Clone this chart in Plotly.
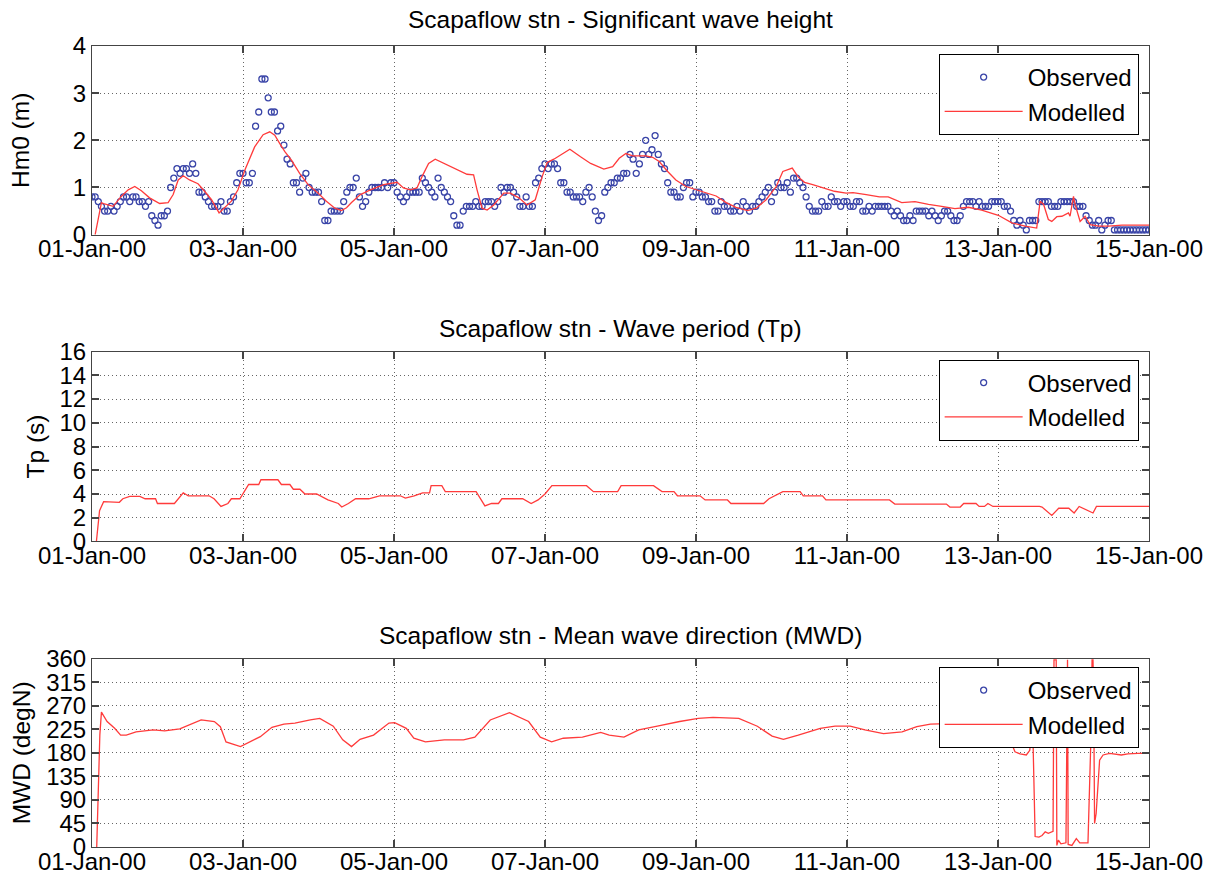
import pandas as pd
import plotly.graph_objects as go

# ---------------- data ----------------
START = pd.Timestamp("2000-01-01")

# Observed Hm0 (m), hourly from 01-Jan-00 00:00
obs_hm0_day = [
    [0.8,0.8,0.7,0.6,0.5,0.5,0.6,0.5,0.6,0.7,0.8,0.8,0.7,0.8,0.8,0.7,0.7,0.6,0.7,0.4,0.3,0.2,0.4,0.4],
    [0.5,1.0,1.2,1.4,1.3,1.4,1.4,1.3,1.5,1.3,0.9,0.9,0.8,0.7,0.6,0.6,0.6,0.7,0.5,0.5,0.7,0.8,1.1,1.3],
    [1.3,1.1,1.1,1.3,2.3,2.6,3.3,3.3,2.9,2.6,2.6,2.2,2.3,1.9,1.6,1.5,1.1,1.1,0.9,1.2,1.3,1.0,0.9,0.9],
    [0.9,0.7,0.3,0.3,0.5,0.5,0.5,0.5,0.7,0.9,1.0,1.0,1.2,0.8,0.6,0.7,0.9,1.0,1.0,1.0,1.0,1.1,1.0,1.1],
    [1.1,0.9,0.8,0.7,0.8,0.9,0.9,0.9,0.9,1.2,1.1,1.0,0.9,0.8,1.2,1.0,0.9,0.8,0.7,0.4,0.2,0.2,0.5,0.6],
    [0.6,0.6,0.7,0.6,0.6,0.7,0.7,0.7,0.6,0.7,1.0,0.9,1.0,1.0,0.9,0.8,0.6,0.6,0.8,0.6,0.6,1.1,1.2,1.4],
    [1.5,1.4,1.5,1.5,1.4,1.1,1.1,0.9,0.9,0.8,0.8,0.8,0.7,0.9,1.0,0.8,0.5,0.3,0.4,0.9,1.0,1.1,1.1,1.2],
    [1.2,1.3,1.3,1.7,1.6,1.3,1.5,1.7,2.0,1.7,1.8,2.1,1.7,1.5,1.4,1.1,0.9,0.9,0.8,0.8,1.0,1.1,1.1,0.8],
    [0.9,0.9,0.8,0.8,0.7,0.7,0.5,0.5,0.7,0.6,0.6,0.5,0.5,0.6,0.5,0.7,0.6,0.5,0.6,0.6,0.7,0.8,0.9,1.0],
    [0.7,0.9,1.1,1.0,1.0,1.1,0.9,1.2,1.2,1.1,1.0,0.8,0.6,0.5,0.5,0.5,0.7,0.6,0.6,0.8,0.7,0.7,0.6,0.7],
    [0.7,0.6,0.6,0.7,0.7,0.5,0.5,0.6,0.5,0.6,0.6,0.6,0.6,0.6,0.5,0.4,0.5,0.4,0.3,0.3,0.4,0.3,0.5,0.5],
    [0.5,0.5,0.4,0.5,0.4,0.3,0.4,0.5,0.5,0.4,0.3,0.3,0.4,0.6,0.7,0.7,0.7,0.6,0.7,0.6,0.6,0.6,0.7,0.7],
    [0.7,0.7,0.6,0.6,0.5,0.3,0.2,0.3,0.2,0.1,0.3,0.3,0.3,0.7,0.7,0.7,0.7,0.6,0.6,0.6,0.7,0.7,0.7,0.7],
    [0.7,0.6,0.6,0.6,0.4,0.3,0.2,0.2,0.3,0.1,0.2,0.3,0.3,0.1,0.1,0.1,0.1,0.1,0.1,0.1,0.1,0.1,0.1,0.1],
    [0.1],
]
obs_hm0 = [v for day in obs_hm0_day for v in day]
obs_hm0_hours = list(range(len(obs_hm0)))

# Modelled Hm0 (m): hours since start, values
mod_hm0_hours = [1,3,4,6.7,9.3,11.5,13.6,15.7,18.3,21.5,24.2,25.8,27.4,29,31,33.7,35.8,38,40.4,42.2,
    44.3,46.4,48.6,51.7,54.4,56.5,58.1,59.7,61.3,63.4,66,68.7,71.9,74.5,77.2,79.3,80.9,82.5,85.3,88.5,
    92.7,97,99,101.2,103.3,104.9,107,109.1,111.8,116,119.2,121.3,122.4,124,125.6,127.7,130.9,133,135.7,
    138.3,140.9,143.1,144.7,146.8,148.9,151.9,155.3,158.5,162.7,165.5,167.6,169.7,171.9,176.1,178.2,
    180.3,183,185.6,188.8,192,195.2,198.4,201.6,204.7,208.4,211.1,214.3,217.5,219.6,222.6,224.4,226.5,
    229.1,232.3,236,239.7,241.9,246.1,250.3,253.1,257.4,261.6,265.9,270.1,274.3,278.6,282.8,288.1,
    292.4,296.6,300.3,301.4,302.5,304,305.1,306.7,308.3,310.4,310.9,312,312.5,314.1,315.7,317.3,320,
    323.1,327.4,332.7,336]
mod_hm0 = [0.0,0.68,0.65,0.6,0.81,0.95,1.02,0.93,0.78,0.66,0.68,0.85,1.16,1.25,1.16,1.08,0.92,0.74,0.46,0.57,
    0.71,0.95,1.37,1.86,2.12,2.18,2.11,1.93,1.76,1.58,1.3,1.06,0.88,0.71,0.56,0.51,0.57,0.68,0.85,0.95,
    1.06,1.11,0.99,0.95,0.99,1.23,1.51,1.6,1.51,1.37,1.28,1.27,0.95,0.56,0.52,0.63,0.88,0.88,0.78,
    0.63,0.74,1.23,1.53,1.6,1.69,1.81,1.65,1.51,1.39,1.44,1.62,1.72,1.67,1.67,1.64,
    1.55,1.34,1.16,1.02,0.95,0.89,0.82,0.68,0.58,0.51,0.56,0.74,1.02,1.34,1.41,1.23,1.11,
    1.06,0.99,0.92,0.88,0.89,0.85,0.8,0.8,0.68,0.7,0.64,0.6,0.55,0.58,0.52,0.41,
    0.25,0.18,0.14,0.71,0.64,0.32,0.28,0.38,0.39,0.46,0.39,0.81,0.64,0.28,0.39,0.21,0.18,
    0.18,0.2,0.2,0.2]

# Modelled Tp (s)
mod_tp_hours = [1.4,2.4,3.7,8.7,9.8,12,15.2,16.9,20.2,20.8,26.2,29,30.6,37.2,38.8,41,43.2,44.3,47,48.1,
    49.8,53,53.7,59.1,60.2,62.9,64,66.1,67.7,71.4,75,78.3,79.4,81.5,83.8,88,91.4,98,99.6,102.4,105.1,
    107.3,107.8,111.2,112.3,122.1,124.9,127,129.2,130.3,136.9,139.6,141.8,144,146.2,157.2,159.4,167.1,
    168.2,178.5,181.2,185.0,186.1,193.3,194.9,202.0,203.1,213.5,215.2,219.6,225.1,226.1,232.2,233.3,
    253.5,255.2,271.6,272.7,276.0,277.1,281.0,282.0,283.7,284.8,286.4,301.2,302,305.1,307.3,310.5,
    312.2,313.8,318.2,319.3,336]
mod_tp = [0,2.6,3.35,3.3,3.6,3.8,3.8,3.6,3.6,3.2,3.2,4.1,3.85,3.85,3.6,2.95,3.2,3.6,3.6,4.07,
    4.8,4.8,5.2,5.2,4.8,4.8,4.4,4.4,4.0,4.0,3.5,3.2,2.9,3.2,3.6,3.6,3.85,3.85,3.65,3.85,4.1,
    4.1,4.7,4.7,4.2,4.2,3.0,3.2,3.2,3.6,3.6,3.2,3.5,4.0,4.7,4.7,4.2,4.2,
    4.7,4.7,4.2,4.2,3.85,3.85,3.5,3.5,3.2,3.2,3.6,4.2,4.2,3.85,3.85,3.5,
    3.5,3.15,3.15,2.9,2.9,3.2,3.2,2.95,2.95,3.2,2.95,2.95,2.9,2.2,2.8,2.8,
    2.4,2.95,2.4,2.95,2.95]

# Modelled MWD (degN)
mod_mwd_hours = [1.5,2,2.5,3,4.8,7.2,9.1,10.9,14,19.5,23.1,27.9,31.6,34.7,38.9,40.8,42.6,47.2,53.5,57.2,
    61,64.5,69.4,72.4,76.7,79.7,82.5,85.2,89.5,94.4,96.2,99.9,102.3,106,112,118.1,121.7,126.6,132.7,
    138.8,142.5,146.1,149.8,155.9,161.7,164.4,169.1,173.8,179.7,186.8,192.7,197.4,205.6,211.5,216.2,
    219.8,224.5,231.5,236.2,241,245.7,251.6,257.5,262.2,266.5,272,280,288,291,292.5,293.4,295,297,
    298.1,299,299.8,301,302,303,304,305.5,305.8,306.5,306.7,307.2,308,309.6,309.9,310.1,310.3,311.5,
    312.9,314,316.6,317.5,317.9,318.2,318.4,318.7,319.2,319.8,320.3,321.4,323.5,327.2,329.3,332.5,336]
mod_mwd = [0,130,215,258,240,227,214,214,220,224,222,226,235,243,240,230,201,192,211,229,
    235,237,243,246,231,205,192,206,214,237,238,227,208,201,205,205,210,243,257,
    240,210,201,208,210,219,214,210,224,231,240,246,248,246,231,212,
    206,214,227,231,231,224,217,220,230,235,236,233,226,210,195,182,178,176,
    185,240,20,19,22,29,26,30,358,358,3,13,6,8,358,358,5,3,
    16,8,8,200,358,358,300,45,64,134,166,176,179,176,178,179,179]

# No observations available for Tp and MWD at this station
obs_tp_hours, obs_tp = [], []
obs_mwd_hours, obs_mwd = [], []

x_ticks_days = list(range(0, 15, 2))

# ---------------- figure ----------------
def times(hours):
    return [START + pd.Timedelta(hours=h) for h in hours]

OBS_COLOR = "#3a45a8"
MOD_COLOR = "#ff3b3b"
FONT = "Liberation Sans, Arial, Helvetica, sans-serif"

fig = go.Figure()
panels = [
    ("x", "y", "legend", obs_hm0_hours, obs_hm0, mod_hm0_hours, mod_hm0),
    ("x2", "y2", "legend2", obs_tp_hours, obs_tp, mod_tp_hours, mod_tp),
    ("x3", "y3", "legend3", obs_mwd_hours, obs_mwd, mod_mwd_hours, mod_mwd),
]
for xa, ya, lg, oh, ov, mh, mv in panels:
    # an empty observation series still gets its legend entry
    ox = times(oh) if oh else [None]
    oy = ov if ov else [None]
    fig.add_trace(go.Scatter(
        x=ox, y=oy, mode="markers", name="Observed", legend=lg,
        xaxis=xa, yaxis=ya,
        marker=dict(symbol="circle-open", size=6, color=OBS_COLOR, line=dict(width=1.3, color=OBS_COLOR)),
    ))
    fig.add_trace(go.Scatter(
        x=times(mh), y=mv, mode="lines", name="Modelled", legend=lg,
        xaxis=xa, yaxis=ya, line=dict(color=MOD_COLOR, width=1.3),
    ))

tickvals = [START + pd.Timedelta(days=d) for d in x_ticks_days]
xrange_ = [START, START + pd.Timedelta(days=14)]

TICKFONT = dict(size=24, color="black", family=FONT)
common_x = dict(
    type="date", range=xrange_, tickvals=tickvals, tickformat="%d-%b-%y",
    showgrid=True, gridcolor="#666", griddash="1px,3px", gridwidth=1,
    showline=True, linecolor="#444", linewidth=1, mirror="ticks",
    ticks="inside", ticklen=7, tickcolor="#444", tickwidth=1.5,
    tickfont=TICKFONT, automargin=False, zeroline=False, ticklabelstandoff=-7,
)
common_y = dict(
    type="linear",
    showgrid=True, gridcolor="#666", griddash="1px,3px", gridwidth=1,
    showline=True, linecolor="#444", linewidth=1, mirror="ticks",
    ticks="inside", ticklen=7, tickcolor="#444", tickwidth=1.5,
    tickfont=TICKFONT, automargin=False, zeroline=False,
)

doms = [[0.7645, 1.0], [0.3814, 0.6186], [0.0, 0.2350]]
ycfg = [
    dict(range=[0, 4], dtick=1, title=dict(text="Hm0 (m)", standoff=36)),
    dict(range=[0, 16], dtick=2, title=dict(text="Tp (s)", standoff=7)),
    dict(range=[0, 360], dtick=45, title=dict(text="MWD (degN)", standoff=8)),
]
layout = dict(
    width=1205, height=883,
    margin=dict(l=92, r=56, t=46, b=36),
    paper_bgcolor="white", plot_bgcolor="white",
    font=dict(family=FONT, size=24, color="black"),
    showlegend=True,
)
for i, (dom, yc) in enumerate(zip(doms, ycfg)):
    sfx = "" if i == 0 else str(i + 1)
    layout["xaxis" + sfx] = dict(common_x, anchor="y" + sfx, domain=[0, 1])
    yc_full = dict(common_y, **yc)
    yc_full["title"]["font"] = dict(size=24.5, family=FONT, color="black")
    layout["yaxis" + sfx] = dict(yc_full, anchor="x" + sfx, domain=dom)

legend_tops = [0.990, 0.6086, 0.2247]
for i, yt in enumerate(legend_tops):
    key = "legend" if i == 0 else "legend" + str(i + 1)
    layout[key] = dict(
        x=0.9902, xanchor="right", y=yt, yanchor="top",
        bgcolor="white", bordercolor="black", borderwidth=1,
        font=dict(size=24, family=FONT, color="black"),
        itemwidth=78, tracegroupgap=0,
    )

titles = [
    ("Scapaflow stn - Significant wave height", 20),
    ("Scapaflow stn - Wave period (Tp)", 328),
    ("Scapaflow stn - Mean wave direction (MWD)", 635),
]
annotations = []
for text, ypx in titles:
    annotations.append(dict(
        text=text, xref="paper", yref="paper", x=0.5, y=(847 - ypx) / 801,
        xanchor="center", yanchor="middle", showarrow=False,
        font=dict(size=24.5, family=FONT, color="black"),
    ))
layout["annotations"] = annotations

fig.update_layout(**layout)
# remove the default page margin so the 1205x883 figure fills the window exactly
fig.write_html("out.html",
               config={"displayModeBar": False},
               post_script="document.body.style.margin='0';document.body.style.overflow='hidden';")
